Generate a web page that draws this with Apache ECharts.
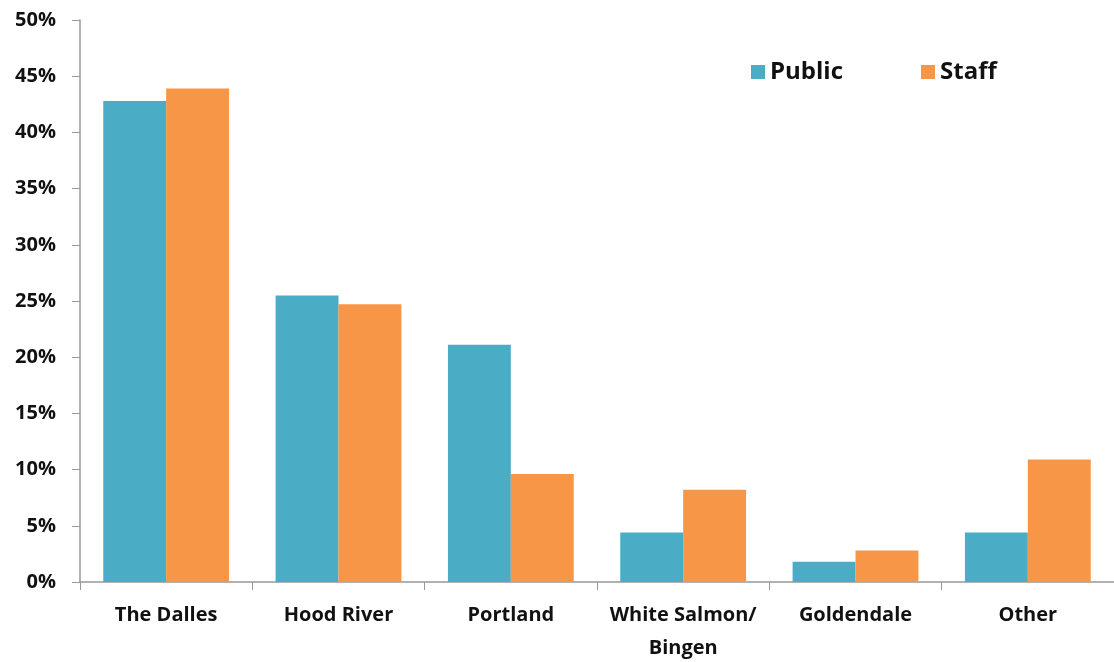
<!DOCTYPE html>
<html><head><meta charset="utf-8">
<script src="https://cdn.jsdelivr.net/npm/echarts@6/dist/echarts.min.js"></script>
<style>html,body{margin:0;padding:0;background:#fff}#c{width:1114px;height:662px}</style>
</head><body><div id="c"></div>
<script>
const categories = ['The Dalles', 'Hood River', 'Portland', 'White Salmon/\nBingen', 'Goldendale', 'Other'];
const publicValues = [42.8, 25.5, 21.1, 4.4, 1.8, 4.4];
const staffValues = [43.9, 24.7, 9.6, 8.2, 2.8, 10.9];
const yTicks = { min: 0, max: 50, interval: 5 };

const chart = echarts.init(document.getElementById('c'));
const font = '"Open Sans", "DejaVu Sans", sans-serif';
chart.setOption({
  animation: false,
  legend: {
    left: 746, top: 55,
    itemWidth: 14, itemHeight: 14, itemGap: 78,
    icon: 'rect',
    textStyle: { fontFamily: font, fontWeight: 'bold', fontSize: 24, color: '#111' },
    data: ['Public', 'Staff']
  },
  grid: { left: 80, right: 0, top: 20, bottom: 80, containLabel: false, outerBoundsMode: 'none' },
  xAxis: {
    type: 'category', data: categories,
    axisLine: { lineStyle: { color: '#999', width: 1.5 } },
    axisTick: { show: true, interval: 0, length: 8, lineStyle: { color: '#999' } },
    axisLabel: { interval: 0, fontFamily: font, fontWeight: 'bold', fontSize: 20, color: '#111', margin: 17, lineHeight: 33 }
  },
  yAxis: {
    type: 'value', min: yTicks.min, max: yTicks.max, interval: yTicks.interval,
    splitLine: { show: false },
    axisLine: { show: true, lineStyle: { color: '#999', width: 1.5 } },
    axisTick: { show: true, length: 8, lineStyle: { color: '#999' } },
    axisLabel: { formatter: '{value}%', fontFamily: font, fontWeight: 'bold', fontSize: 20, color: '#111', margin: 24 }
  },
  series: [
    { name: 'Public', type: 'bar', data: publicValues, barGap: '0%', barCategoryGap: '27%', itemStyle: { color: '#4BACC6' } },
    { name: 'Staff', type: 'bar', data: staffValues, barGap: '0%', barCategoryGap: '27%', itemStyle: { color: '#F79646' } }
  ]
});
</script></body></html>
